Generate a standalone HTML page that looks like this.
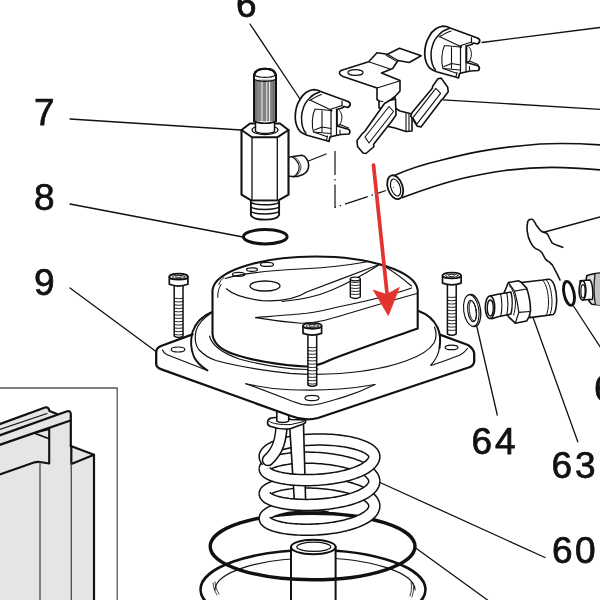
<!DOCTYPE html>
<html><head><meta charset="utf-8">
<style>
html,body{margin:0;padding:0;background:#fff;width:600px;height:600px;overflow:hidden}
svg{display:block}
text{font-family:"Liberation Sans",sans-serif;font-size:37px;fill:#111;stroke:#111;stroke-width:0.75px}
</style></head><body>
<svg width="600" height="600" viewBox="0 0 600 600">
<g fill="none" stroke="#111" stroke-linecap="round" stroke-linejoin="round">

<!-- ============ INSET BOX ============ -->
<g id="inset">
<clipPath id="insclip"><rect x="0" y="388" width="117" height="212"/></clipPath>
<g clip-path="url(#insclip)">
<path d="M-2,424.7 L45,407.5 Q48.5,406.5 49.5,411 L57,414 L66.5,411 Q70.5,410 70.8,414 V446 L94,454.7 V602 H-2 Z" fill="#e5e5e5" stroke="none"/>
<path d="M-2,424.7 L45,407.5 Q48.5,406.5 49.5,411 L57,414" stroke-width="2.2"/>
<path d="M-2,430 L47,413.5" stroke-width="1.2"/>
<path d="M-2,436 L66.5,411.5 Q70.5,410 70.8,414 V446" stroke-width="2.2"/>
<path d="M-2,445.4 L33,433.4 L70.5,420.5" stroke-width="2.2"/>
<path d="M34,433 L48.5,429.5 M34,433 L48.5,438.5" stroke-width="1.8"/>
<path d="M49.2,429 V463.5 L40,462 Q37,461.5 34,462.5 L-2,475" stroke-width="2.1"/>
<path d="M70.8,446 L94,454.7 L71.3,464 M71.3,446 V464 M94,454.7 V602" stroke-width="2.2"/>
<path d="M40,462.5 V602 M71.3,464 V602" stroke="#555" stroke-width="1.4"/>
</g>
<path d="M-2,388 H117.2 V602" stroke="#555" stroke-width="1.3" stroke-linecap="butt"/>
</g>


<!-- ============ PART 7 VALVE ============ -->
<g id="p7">
<path d="M286,157.5 L302,155.3 C305,155.5 308.5,160 308.7,165 C308.8,170 306,173 303,174.5 L297.3,176.5 L292,176.5 L286,175.8 Z" fill="#fff" stroke-width="1.6"/>
<path d="M292.7,157 C296.5,160 299.2,163.5 299.2,167 C299,171 296.5,175 293.3,177" stroke-width="1.2"/>
<path d="M294.5,156.8 C298.3,160 301,163.5 301,167 C300.8,171 298.3,175 295.1,176.8" stroke-width="0.8"/>
<path d="M241.5,130 V194.7 L251.5,200.6 H278 L288.5,194.7 V130" fill="#fff" stroke-width="2.1"/>
<path d="M252,137.3 V200 M277.3,137.3 V200" stroke-width="1.3"/>
<path d="M241.5,130 L250,123.5 H280 L288.5,130 L277.3,137.3 H252 Z" fill="#fff" stroke-width="2"/>
<ellipse cx="265" cy="130" rx="13" ry="4.6" stroke-width="1.2"/>
<path d="M255.5,121.5 V131.5 C259,134 271,134 274.5,131.5 V121.5" fill="#fff" stroke-width="1.5"/>
<path d="M254,121 V77 C254,71 258.5,68.7 265,68.7 C271.5,68.7 276,71 276,77 V121" stroke-width="2" fill="#fff"/>
<rect x="254.5" y="80" width="21" height="41" fill="#c4c4c4" stroke="none"/>
<path d="M254.90,80 V121 M255.95,80 V121 M257.00,80 V121 M258.05,80 V121 M259.10,80 V121 M260.15,80 V121 M261.20,80 V121 M262.25,80 V121 M263.30,80 V121 M264.35,80 V121 M265.40,80 V121 M266.45,80 V121 M267.50,80 V121 M268.55,80 V121 M269.60,80 V121 M270.65,80 V121 M271.70,80 V121 M272.75,80 V121 M273.80,80 V121 M274.85,80 V121" stroke="#3a3a3a" stroke-width="0.55"/>
<path d="M256,81 V121 M273.5,81 V121" stroke="#666" stroke-width="1.2"/>
<path d="M262,81 V121.5 M266.8,81 V121.5 M269.6,81 V121.5" stroke="#fff" stroke-width="0.9"/>
<path d="M254,121 V77 C254,71 258.5,68.7 265,68.7 C271.5,68.7 276,71 276,77 V121" stroke-width="2"/>
<path d="M255,75.5 C259,78 271,78 275,75.5" stroke-width="1.2"/>
<path d="M254.5,79.5 C259,82 271,82 275.5,79.5" stroke-width="1.2"/>
<path d="M254,121 C258,124 272,124 276,121" stroke-width="1.6"/>
<path d="M250.9,201.6 V215 C252,218 258,219.6 265,219.6 C272,219.6 278,218 279.1,215 V201.6" fill="#fff" stroke-width="1.9"/>
<path d="M251.2,202.6 C256,205.6 274,205.6 278.8,202.6 M250.9,207.2 C256,210.2 274,210.2 279.1,207.2 M250.9,211.7 C256,214.7 274,214.7 279.1,211.7" stroke-width="1.5"/>
</g>
<!-- ============ PART 8 ORING ============ -->
<ellipse cx="265.3" cy="236.7" rx="21.8" ry="7.2" stroke-width="3"/>




<!-- ============ BOTTOM ASSEMBLY ============ -->
<g id="bottom">
<!-- bowl -->
<ellipse cx="313" cy="589.5" rx="112.5" ry="39.5" stroke-width="2.6"/>
<path d="M215,590 A100,32 0 0 1 415,590" stroke-width="1.1"/>
<path d="M213,583 C213.5,588 215,592 217,595 M215,582 C215.5,587 217,591 219,594" stroke-width="0.8"/>
<path d="M411,582 C412,587 411.5,592 410,596 M413,583 C414,588 413.5,593 412,597" stroke-width="0.8"/>
<!-- post -->
<path d="M291,547 V602 H335.6 V547 Z" fill="#fff" stroke="none"/>
<path d="M291,547 V602 M335.6,547 V602" stroke-width="2"/>
<ellipse cx="313.3" cy="547" rx="22.3" ry="7.3" fill="#fff" stroke-width="2"/>
<ellipse cx="313.8" cy="546.8" rx="17" ry="4.6" stroke-width="1.2"/>
<!-- big o-ring -->
<ellipse cx="312.6" cy="546.5" rx="102.4" ry="33.3" stroke-width="3.4"/>
<!-- spring -->
<path d="M264.70,518.50 L264.78,517.74 L265.01,516.97 L265.39,516.22 L265.92,515.47 L266.60,514.73 L267.44,514.00 L268.41,513.29 L269.53,512.60 L270.79,511.92 L272.19,511.27 L273.72,510.64 L275.37,510.04 L277.15,509.46 L279.05,508.92 L281.06,508.40 L283.18,507.93 L285.40,507.48 L287.71,507.08 L290.12,506.71 L292.60,506.38 L295.17,506.10 L297.79,505.85 L300.49,505.65 L303.23,505.50 L306.02,505.39 L308.84,505.33 L311.70,505.31 L314.58,505.34 L317.47,505.42 L320.37,505.54 L323.26,505.72 L326.15,505.94 L329.02,506.20" stroke="#111" stroke-width="12.6" stroke-linecap="butt" stroke-linejoin="round"/><path d="M264.83,519.41 L264.71,518.71 L264.74,517.97 L264.92,517.20 L265.27,516.43 L265.76,515.67 L266.41,514.92 L267.21,514.19 L268.16,513.46 L269.26,512.76 L270.50,512.07 L271.87,511.41 L273.39,510.77 L275.03,510.15 L276.81,509.57 L278.70,509.01 L280.71,508.49 L282.83,508.00 L285.06,507.55 L287.38,507.13 L289.80,506.76 L292.30,506.42 L294.87,506.13 L297.52,505.88 L300.23,505.67 L302.99,505.51 L305.81,505.40 L308.66,505.33 L311.54,505.31 L314.44,505.34 L317.36,505.41 L320.29,505.54 L323.21,505.71 L326.12,505.93 L329.02,506.20" stroke="#fff" stroke-width="9.6" stroke-linecap="butt" stroke-linejoin="round"/>
<path d="M264.70,493.70 L264.78,493.02 L265.00,492.34 L265.37,491.66 L265.90,490.99 L266.57,490.33 L267.38,489.69 L268.34,489.05 L269.44,488.44 L270.67,487.84 L272.04,487.27 L273.54,486.71 L275.17,486.19 L276.91,485.69 L278.78,485.22 L280.75,484.78 L282.83,484.37 L285.01,484.00 L287.29,483.67 L289.65,483.37 L292.10,483.11 L294.62,482.89 L297.21,482.72 L299.86,482.58 L302.57,482.49 L305.32,482.45 L308.11,482.44 L310.93,482.49 L313.77,482.58 L316.63,482.72 L319.50,482.90 L322.37,483.13 L325.23,483.41 L328.07,483.73 L330.89,484.10 L333.68,484.51 L336.43,484.97 L339.14,485.48 L341.79,486.02 L344.38,486.61 L346.90,487.24 L349.35,487.92 L351.71,488.63 L353.99,489.38 L356.17,490.16 L358.25,490.98 L360.22,491.83 L362.09,492.71 L363.83,493.63 L365.46,494.57 L366.96,495.53 L368.33,496.52 L369.56,497.53 L370.66,498.56 L371.62,499.61 L372.43,500.67 L373.10,501.74 L373.63,502.82 L374.00,503.91 L374.22,505.00 L374.30,506.10" stroke="#111" stroke-width="12.6" stroke-linecap="butt" stroke-linejoin="round"/><path d="M264.83,494.61 L264.71,493.92 L264.74,493.23 L264.92,492.54 L265.25,491.86 L265.74,491.18 L266.37,490.51 L267.16,489.85 L268.09,489.21 L269.17,488.58 L270.38,487.98 L271.74,487.39 L273.22,486.83 L274.84,486.29 L276.58,485.78 L278.45,485.30 L280.42,484.85 L282.51,484.43 L284.70,484.05 L286.99,483.71 L289.37,483.40 L291.83,483.14 L294.37,482.91 L296.99,482.73 L299.66,482.59 L302.39,482.50 L305.17,482.45 L307.99,482.44 L310.84,482.49 L313.71,482.58 L316.60,482.71 L319.50,482.90 L322.40,483.13 L325.29,483.41 L328.16,483.74 L331.01,484.12 L333.83,484.54 L336.61,485.00 L339.34,485.52 L342.01,486.07 L344.63,486.67 L347.17,487.31 L349.63,488.00 L352.01,488.72 L354.30,489.48 L356.49,490.28 L358.58,491.11 L360.55,491.98 L362.42,492.88 L364.16,493.81 L365.78,494.76 L367.26,495.74 L368.62,496.75 L369.83,497.77 L370.91,498.82 L371.84,499.88 L372.63,500.95 L373.26,502.04 L373.75,503.14 L374.08,504.24 L374.26,505.35 L374.29,506.45 L374.17,507.56" stroke="#fff" stroke-width="9.6" stroke-linecap="butt" stroke-linejoin="round"/>
<path d="M264.70,468.90 L264.78,468.22 L265.00,467.54 L265.37,466.86 L265.90,466.19 L266.57,465.53 L267.38,464.89 L268.34,464.25 L269.44,463.64 L270.67,463.04 L272.04,462.47 L273.54,461.91 L275.17,461.39 L276.91,460.89 L278.78,460.42 L280.75,459.98 L282.83,459.57 L285.01,459.20 L287.29,458.87 L289.65,458.57 L292.10,458.31 L294.62,458.09 L297.21,457.92 L299.86,457.78 L302.57,457.69 L305.32,457.65 L308.11,457.64 L310.93,457.69 L313.77,457.78 L316.63,457.92 L319.50,458.10 L322.37,458.33 L325.23,458.61 L328.07,458.93 L330.89,459.30 L333.68,459.71 L336.43,460.17 L339.14,460.68 L341.79,461.22 L344.38,461.81 L346.90,462.44 L349.35,463.12 L351.71,463.83 L353.99,464.58 L356.17,465.36 L358.25,466.18 L360.22,467.03 L362.09,467.91 L363.83,468.83 L365.46,469.77 L366.96,470.73 L368.33,471.72 L369.56,472.73 L370.66,473.76 L371.62,474.81 L372.43,475.87 L373.10,476.94 L373.63,478.02 L374.00,479.11 L374.22,480.20 L374.30,481.30" stroke="#111" stroke-width="12.6" stroke-linecap="butt" stroke-linejoin="round"/><path d="M264.83,469.81 L264.71,469.12 L264.74,468.43 L264.92,467.74 L265.25,467.06 L265.74,466.38 L266.37,465.71 L267.16,465.05 L268.09,464.41 L269.17,463.78 L270.38,463.18 L271.74,462.59 L273.22,462.03 L274.84,461.49 L276.58,460.98 L278.45,460.50 L280.42,460.05 L282.51,459.63 L284.70,459.25 L286.99,458.91 L289.37,458.60 L291.83,458.34 L294.37,458.11 L296.99,457.93 L299.66,457.79 L302.39,457.70 L305.17,457.65 L307.99,457.64 L310.84,457.69 L313.71,457.78 L316.60,457.91 L319.50,458.10 L322.40,458.33 L325.29,458.61 L328.16,458.94 L331.01,459.32 L333.83,459.74 L336.61,460.20 L339.34,460.72 L342.01,461.27 L344.63,461.87 L347.17,462.51 L349.63,463.20 L352.01,463.92 L354.30,464.68 L356.49,465.48 L358.58,466.31 L360.55,467.18 L362.42,468.08 L364.16,469.01 L365.78,469.96 L367.26,470.94 L368.62,471.95 L369.83,472.97 L370.91,474.02 L371.84,475.08 L372.63,476.15 L373.26,477.24 L373.75,478.34 L374.08,479.44 L374.26,480.55 L374.29,481.65 L374.17,482.76" stroke="#fff" stroke-width="9.6" stroke-linecap="butt" stroke-linejoin="round"/>
<path d="M264.70,456.50 L264.78,455.61 L265.00,454.72 L265.37,453.84 L265.90,452.97 L266.57,452.10 L267.38,451.25 L268.34,450.41 L269.44,449.59 L270.67,448.78 L272.04,448.00 L273.54,447.24 L275.17,446.51 L276.91,445.80 L278.78,445.12 L280.75,444.48 L282.83,443.87 L285.01,443.29 L287.29,442.75 L289.65,442.24 L292.10,441.78 L294.62,441.35 L297.21,440.97 L299.86,440.63 L302.57,440.33 L305.32,440.08 L308.11,439.87 L310.93,439.71 L313.77,439.59 L316.63,439.52 L319.50,439.50 L322.37,439.52 L325.23,439.59 L328.07,439.71 L330.89,439.87 L333.68,440.08 L336.43,440.33 L339.14,440.63 L341.79,440.97 L344.38,441.35 L346.90,441.78 L349.35,442.24 L351.71,442.75 L353.99,443.29 L356.17,443.87 L358.25,444.48 L360.22,445.12 L362.09,445.80 L363.83,446.51 L365.46,447.24 L366.96,448.00 L368.33,448.78 L369.56,449.59 L370.66,450.41 L371.62,451.25 L372.43,452.10 L373.10,452.97 L373.63,453.84 L374.00,454.72 L374.22,455.61 L374.30,456.50" stroke="#111" stroke-width="12.6" stroke-linecap="butt" stroke-linejoin="round"/><path d="M264.83,457.69 L264.71,456.79 L264.74,455.89 L264.92,454.99 L265.25,454.10 L265.74,453.21 L266.37,452.33 L267.16,451.47 L268.09,450.61 L269.17,449.78 L270.38,448.96 L271.74,448.17 L273.22,447.39 L274.84,446.65 L276.58,445.93 L278.45,445.24 L280.42,444.58 L282.51,443.96 L284.70,443.37 L286.99,442.81 L289.37,442.30 L291.83,441.83 L294.37,441.39 L296.99,441.00 L299.66,440.65 L302.39,440.35 L305.17,440.09 L307.99,439.88 L310.84,439.71 L313.71,439.60 L316.60,439.52 L319.50,439.50 L322.40,439.52 L325.29,439.60 L328.16,439.71 L331.01,439.88 L333.83,440.09 L336.61,440.35 L339.34,440.65 L342.01,441.00 L344.63,441.39 L347.17,441.83 L349.63,442.30 L352.01,442.81 L354.30,443.37 L356.49,443.96 L358.58,444.58 L360.55,445.24 L362.42,445.93 L364.16,446.65 L365.78,447.39 L367.26,448.17 L368.62,448.96 L369.83,449.78 L370.91,450.61 L371.84,451.47 L372.63,452.33 L373.26,453.21 L373.75,454.10 L374.08,454.99 L374.26,455.89 L374.29,456.85 L374.17,457.96" stroke="#fff" stroke-width="9.6" stroke-linecap="butt" stroke-linejoin="round"/>
<path d="M266.82,461.19 L266.00,460.18 L265.37,459.16 L264.95,458.13 L264.73,457.09 L264.72,456.05" stroke="#111" stroke-width="12.6" stroke-linecap="butt" stroke-linejoin="round"/><path d="M266.82,461.19 L266.03,460.23 L265.43,459.26 L265.00,458.28 L264.76,457.29 L264.70,456.30 L264.83,455.31" stroke="#fff" stroke-width="9.6" stroke-linecap="butt" stroke-linejoin="round"/>
<!-- rod -->
<path d="M290.5,430 L303,425 L305.4,500 L294.4,500 Z" fill="#fff" stroke="none"/>
<path d="M289.8,428 L294.3,500 M303.5,423.7 L305.6,500" stroke-width="1.6"/>
<path d="M281.8,421 C281.5,440 278,451 268,460" stroke="#111" stroke-width="12.6" stroke-linecap="round"/><path d="M281.8,419.5 C281.5,440 278,451 268,460" stroke="#fff" stroke-width="9.6" stroke-linecap="round"/>
<path d="M374.28,505.55 L374.28,506.65 L374.13,507.74 L373.83,508.84 L373.38,509.92 L372.79,511.00 L372.04,512.06 L371.16,513.12 L370.13,514.16 L368.96,515.18 L367.66,516.18 L366.22,517.15 L364.66,518.11 L362.98,519.03 L361.17,519.93 L359.25,520.80 L357.22,521.63 L355.09,522.44 L352.86,523.20 L350.54,523.93 L348.13,524.62 L345.65,525.28 L343.09,525.89 L340.47,526.46 L337.79,526.98 L335.06,527.46 L332.29,527.90 L329.49,528.29 L326.65,528.64 L323.80,528.94 L320.93,529.19 L318.07,529.40 L315.20,529.56 L312.35,529.67 L309.51,529.74 L306.71,529.76 L303.94,529.74 L301.21,529.67 L298.53,529.56 L295.91,529.40 L293.35,529.20 L290.87,528.96 L288.46,528.69 L286.14,528.37 L283.91,528.02 L281.78,527.63 L279.75,527.21 L277.83,526.75 L276.02,526.27 L274.34,525.75 L272.78,525.21 L271.34,524.65 L270.04,524.06 L268.87,523.46 L267.84,522.83 L266.96,522.19 L266.21,521.54 L265.62,520.87 L265.17,520.20 L264.87,519.52 L264.72,518.84 L264.72,518.12" stroke="#111" stroke-width="12.6" stroke-linecap="butt" stroke-linejoin="round"/><path d="M374.17,504.64 L374.29,505.75 L374.26,506.85 L374.08,507.96 L373.75,509.06 L373.26,510.16 L372.63,511.25 L371.84,512.32 L370.91,513.38 L369.83,514.43 L368.62,515.45 L367.26,516.46 L365.78,517.44 L364.16,518.39 L362.42,519.32 L360.55,520.22 L358.58,521.09 L356.49,521.92 L354.30,522.72 L352.01,523.48 L349.63,524.20 L347.17,524.89 L344.63,525.53 L342.01,526.13 L339.34,526.68 L336.61,527.20 L333.83,527.66 L331.01,528.08 L328.16,528.46 L325.29,528.79 L322.40,529.07 L319.50,529.30 L316.60,529.49 L313.71,529.62 L310.84,529.71 L307.99,529.76 L305.17,529.75 L302.39,529.70 L299.66,529.61 L296.99,529.47 L294.37,529.29 L291.83,529.06 L289.37,528.80 L286.99,528.49 L284.70,528.15 L282.51,527.77 L280.42,527.35 L278.45,526.90 L276.58,526.42 L274.84,525.91 L273.22,525.37 L271.74,524.81 L270.38,524.22 L269.17,523.62 L268.09,522.99 L267.16,522.35 L266.37,521.69 L265.74,521.02 L265.25,520.34 L264.92,519.66 L264.74,518.97 L264.71,518.26 L264.83,517.49" stroke="#fff" stroke-width="9.6" stroke-linecap="butt" stroke-linejoin="round"/>
<path d="M374.28,480.75 L374.28,481.85 L374.13,482.94 L373.83,484.04 L373.38,485.12 L372.79,486.20 L372.04,487.26 L371.16,488.32 L370.13,489.36 L368.96,490.38 L367.66,491.38 L366.22,492.35 L364.66,493.31 L362.98,494.23 L361.17,495.13 L359.25,496.00 L357.22,496.83 L355.09,497.64 L352.86,498.40 L350.54,499.13 L348.13,499.82 L345.65,500.48 L343.09,501.09 L340.47,501.66 L337.79,502.18 L335.06,502.66 L332.29,503.10 L329.49,503.49 L326.65,503.84 L323.80,504.14 L320.93,504.39 L318.07,504.60 L315.20,504.76 L312.35,504.87 L309.51,504.94 L306.71,504.96 L303.94,504.94 L301.21,504.87 L298.53,504.76 L295.91,504.60 L293.35,504.40 L290.87,504.16 L288.46,503.89 L286.14,503.57 L283.91,503.22 L281.78,502.83 L279.75,502.41 L277.83,501.95 L276.02,501.47 L274.34,500.95 L272.78,500.41 L271.34,499.85 L270.04,499.26 L268.87,498.66 L267.84,498.03 L266.96,497.39 L266.21,496.74 L265.62,496.07 L265.17,495.40 L264.87,494.72 L264.72,494.04 L264.72,493.36" stroke="#111" stroke-width="12.6" stroke-linecap="butt" stroke-linejoin="round"/><path d="M374.17,479.84 L374.29,480.95 L374.26,482.05 L374.08,483.16 L373.75,484.26 L373.26,485.36 L372.63,486.45 L371.84,487.52 L370.91,488.58 L369.83,489.63 L368.62,490.65 L367.26,491.66 L365.78,492.64 L364.16,493.59 L362.42,494.52 L360.55,495.42 L358.58,496.29 L356.49,497.12 L354.30,497.92 L352.01,498.68 L349.63,499.40 L347.17,500.09 L344.63,500.73 L342.01,501.33 L339.34,501.88 L336.61,502.40 L333.83,502.86 L331.01,503.28 L328.16,503.66 L325.29,503.99 L322.40,504.27 L319.50,504.50 L316.60,504.69 L313.71,504.82 L310.84,504.91 L307.99,504.96 L305.17,504.95 L302.39,504.90 L299.66,504.81 L296.99,504.67 L294.37,504.49 L291.83,504.26 L289.37,504.00 L286.99,503.69 L284.70,503.35 L282.51,502.97 L280.42,502.55 L278.45,502.10 L276.58,501.62 L274.84,501.11 L273.22,500.57 L271.74,500.01 L270.38,499.42 L269.17,498.82 L268.09,498.19 L267.16,497.55 L266.37,496.89 L265.74,496.22 L265.25,495.54 L264.92,494.86 L264.74,494.17 L264.71,493.48 L264.83,492.79" stroke="#fff" stroke-width="9.6" stroke-linecap="butt" stroke-linejoin="round"/>
<path d="M374.28,456.05 L374.28,457.05 L374.13,458.14 L373.83,459.24 L373.38,460.32 L372.79,461.40 L372.04,462.46 L371.16,463.52 L370.13,464.56 L368.96,465.58 L367.66,466.58 L366.22,467.55 L364.66,468.51 L362.98,469.43 L361.17,470.33 L359.25,471.20 L357.22,472.03 L355.09,472.84 L352.86,473.60 L350.54,474.33 L348.13,475.02 L345.65,475.68 L343.09,476.29 L340.47,476.86 L337.79,477.38 L335.06,477.86 L332.29,478.30 L329.49,478.69 L326.65,479.04 L323.80,479.34 L320.93,479.59 L318.07,479.80 L315.20,479.96 L312.35,480.07 L309.51,480.14 L306.71,480.16 L303.94,480.14 L301.21,480.07 L298.53,479.96 L295.91,479.80 L293.35,479.60 L290.87,479.36 L288.46,479.09 L286.14,478.77 L283.91,478.42 L281.78,478.03 L279.75,477.61 L277.83,477.15 L276.02,476.67 L274.34,476.15 L272.78,475.61 L271.34,475.05 L270.04,474.46 L268.87,473.86 L267.84,473.23 L266.96,472.59 L266.21,471.94 L265.62,471.27 L265.17,470.60 L264.87,469.92 L264.72,469.24 L264.72,468.56" stroke="#111" stroke-width="12.6" stroke-linecap="butt" stroke-linejoin="round"/><path d="M374.17,455.31 L374.29,456.21 L374.26,457.25 L374.08,458.36 L373.75,459.46 L373.26,460.56 L372.63,461.65 L371.84,462.72 L370.91,463.78 L369.83,464.83 L368.62,465.85 L367.26,466.86 L365.78,467.84 L364.16,468.79 L362.42,469.72 L360.55,470.62 L358.58,471.49 L356.49,472.32 L354.30,473.12 L352.01,473.88 L349.63,474.60 L347.17,475.29 L344.63,475.93 L342.01,476.53 L339.34,477.08 L336.61,477.60 L333.83,478.06 L331.01,478.48 L328.16,478.86 L325.29,479.19 L322.40,479.47 L319.50,479.70 L316.60,479.89 L313.71,480.02 L310.84,480.11 L307.99,480.16 L305.17,480.15 L302.39,480.10 L299.66,480.01 L296.99,479.87 L294.37,479.69 L291.83,479.46 L289.37,479.20 L286.99,478.89 L284.70,478.55 L282.51,478.17 L280.42,477.75 L278.45,477.30 L276.58,476.82 L274.84,476.31 L273.22,475.77 L271.74,475.21 L270.38,474.62 L269.17,474.02 L268.09,473.39 L267.16,472.75 L266.37,472.09 L265.74,471.42 L265.25,470.74 L264.92,470.06 L264.74,469.37 L264.71,468.68 L264.83,467.99" stroke="#fff" stroke-width="9.6" stroke-linecap="butt" stroke-linejoin="round"/>
<!-- tab + pin -->
<path d="M271.3,418 C266.5,419 266.5,425 270,426.3 C276,428.5 285,429.5 291,428.5 L303.3,424 C306.5,422.5 306,420.5 304.5,420 L291,419.5 C287,417.5 280,416.5 271.3,418 Z" fill="#fff" stroke-width="1.6"/>
<path d="M269.5,421.5 C272,423.5 280,425 291,424.5 L304,421.5" stroke-width="1"/>
<path d="M276.8,409 V421 C279,423 286.5,423 288.7,421 V409 Z" fill="#fff" stroke="none"/>
<path d="M276.8,409 V421 C279,423 286.5,423 288.7,421 V409" stroke-width="1.6"/>
</g>

<!-- ============ HOUSING 9 ============ -->
<g id="housing">
<!-- base plate -->
<path d="M161,346 Q156,348 156.2,352.5 V364.5 Q157,368 161.5,369.3 L291,416 Q305,421.5 318,418 L470,367 Q474.2,365 474.2,361 V353.5 Q473.5,348.5 468,345 L441,335 L330,300 L190,334 Z" fill="#fff" stroke="none"/>
<path d="M192.5,334.4 L161,346 Q156,348 156.2,352.5 V364.5 Q157,368 161.5,369.3 L291,416 Q305,421.5 318,418 L470,367 Q474.2,365 474.2,361 V353.5 Q473.5,348.5 468,345 L440.5,334.8" stroke-width="2.3"/>
<path d="M162.5,350 C163.5,352 164.5,353.5 166.5,354.5 C179,359.5 192,364.5 207.5,370.5" stroke-width="1.2"/>
<path d="M245.8,383.7 C260,387 275,389.2 290,389.7 C305,390.3 320,390.5 340,389 C352,388 364,386.5 375,384.5" stroke-width="1.1"/>
<path d="M245.8,383.7 C262,389.5 280,396.5 293,401.5 C300,404.5 306,405.5 313,405 C320,404.5 330,401 345,396.6 C355,393.5 366,389 375,384.5" stroke-width="1.1"/>
<path d="M431,365.5 C445,361 455,357 460,355 C463,353.5 466,350.5 467.5,348.5" stroke-width="1.2"/>
<!-- flange ring -->
<path d="M212.2,312 C203,315.5 196,322 192.5,332 C190.5,340 191,350 194,357 C197,363 202,367 207.5,370.5" stroke-width="1.9"/>
<path d="M210,314 C203,318.5 198,324 196,331 C194.5,338 195.5,345 198.7,349.5 C203,354 208,358 216,360.5 C232,365 255,369.5 290,373.3 C305,374.5 320,374.8 340,373.5 C365,371.5 390,367 407,360.5 C420,356 430,349 434,343 C436.5,338 436.5,332 434.5,327" stroke-width="1.2"/>
<path d="M418.5,311 C427,314 434,320 437.5,327.5 C440.5,334 440.5,342 439.5,348" stroke-width="2"/>
<path d="M439.5,348 C438.5,354 435.5,360 431,365" stroke-width="1.2"/>
<!-- holes -->
<ellipse cx="178" cy="349.5" rx="6.8" ry="2.5" stroke-width="1.2"/>
<ellipse cx="312" cy="398" rx="7" ry="2.7" stroke-width="1.2"/>
<ellipse cx="451.5" cy="347.4" rx="6.4" ry="2.2" stroke-width="1.2"/>
<!-- body -->
<path d="M212.5,290 V333.7 C213,342 220,349 232,353.5 C250,360 280,365.5 306,366.5 C315,366.5 322,364 330,360 C350,352 385,340 417.7,328.5 V290 A102.7,35 0 0 0 212.5,290 Z" fill="#fff" stroke-width="2.1"/>
<path d="M209.5,336 C212,346 222,353 240,359.2 C260,364.5 285,368.8 306,369.5 L318,369" stroke-width="1.1"/>
<!-- top details -->
<path d="M225.3,278.5 C240,273.5 270,270.5 305,268.8 C330,267.5 352,264.5 366,262" stroke-width="1.1"/>
<path d="M226.4,288.8 C232,294 245,298.5 262,300.7 C280,301.5 296,299 306.7,292 C330,283 360,272 380,264.2" stroke-width="1.2"/>
<path d="M282,301.5 C300,300 318,296 332,290 C350,282 368,272 380,264.2" stroke-width="1.1"/>
<path d="M380,264.2 C390,269 400,276 411.5,286" stroke-width="1.1"/>
<path d="M218.8,284.5 C220,281 222,279 224,277.5 M217.8,297.5 C217.5,292 218.8,288 221,284.5" stroke-width="1"/>
<path d="M255.7,317.6 C265,316.8 290,315 306.7,313.3 C320,311.5 330,309 340,306.5 C365,301.5 395,294 411.5,288" stroke-width="1.1"/>
<path d="M255.7,317.6 C270,320 285,322 301,323.2 C312,323.3 318,322 325,320.3 C345,315 375,305 417,293.5" stroke-width="1.1"/>
<ellipse cx="238.7" cy="274.3" rx="6.3" ry="2" stroke-width="1.2"/>
<ellipse cx="252" cy="269.6" rx="5.5" ry="1.8" stroke-width="1.2"/>
<ellipse cx="267" cy="264.4" rx="6.5" ry="2" stroke-width="1.2"/>
<ellipse cx="265" cy="286" rx="15" ry="5" stroke-width="1.3"/>
<!-- stud -->
<path d="M350.3,279 V297 Q355.3,300 360.3,297 V279" fill="#fff" stroke-width="1.4"/>
<ellipse cx="355.3" cy="279" rx="5" ry="1.8" fill="#fff" stroke-width="1.3"/>
<path d="M350.5,282 Q355.3,283.2 360,282 M350.5,285 Q355.3,286.2 360,285 M350.5,288 Q355.3,289.2 360,288 M350.5,291 Q355.3,292.2 360,291 M350.5,294 Q355.3,295.2 360,294" stroke-width="0.9"/>
<path d="M174.2,286.3 V336.2 Q178.6,338.9 183.0,336.2 V286.3" fill="#fff" stroke-width="1.5"/>
<path d="M174.4,298.3 Q178.6,299.1 182.8,298.3 M174.4,301.6 Q178.6,302.4 182.8,301.6 M174.4,304.9 Q178.6,305.7 182.8,304.9 M174.4,308.2 Q178.6,309.0 182.8,308.2 M174.4,311.5 Q178.6,312.3 182.8,311.5 M174.4,314.8 Q178.6,315.6 182.8,314.8 M174.4,318.1 Q178.6,318.9 182.8,318.1 M174.4,321.4 Q178.6,322.2 182.8,321.4 M174.4,324.7 Q178.6,325.5 182.8,324.7 M174.4,328.0 Q178.6,328.8 182.8,328.0 M174.4,331.3 Q178.6,332.1 182.8,331.3 M174.4,334.6 Q178.6,335.4 182.8,334.6" stroke-width="0.9"/>
<path d="M169.3,276.7 V284.3 Q178.6,287.8 187.9,284.3 V276.7" fill="#fff" stroke-width="1.7"/>
<ellipse cx="178.6" cy="276.7" rx="9.3" ry="3" fill="#fff" stroke-width="1.7"/>
<ellipse cx="178.6" cy="276.9" rx="6.3" ry="1.7" stroke-width="0.9"/>
<path d="M175.6,276.7 L177.1,275.7 H180.1 L181.6,276.7 L180.1,277.7 H177.1 Z" stroke-width="0.8"/>
<path d="M307.9,335.4 V385.0 Q312.3,387.7 316.7,385.0 V335.4" fill="#fff" stroke-width="1.5"/>
<path d="M308.1,347.4 Q312.3,348.2 316.5,347.4 M308.1,350.7 Q312.3,351.5 316.5,350.7 M308.1,354.0 Q312.3,354.8 316.5,354.0 M308.1,357.3 Q312.3,358.1 316.5,357.3 M308.1,360.6 Q312.3,361.4 316.5,360.6 M308.1,363.9 Q312.3,364.7 316.5,363.9 M308.1,367.2 Q312.3,368.0 316.5,367.2 M308.1,370.5 Q312.3,371.3 316.5,370.5 M308.1,373.8 Q312.3,374.6 316.5,373.8 M308.1,377.1 Q312.3,377.9 316.5,377.1 M308.1,380.4 Q312.3,381.2 316.5,380.4 M308.1,383.7 Q312.3,384.5 316.5,383.7" stroke-width="0.9"/>
<path d="M303.0,325.8 V333.4 Q312.3,336.9 321.6,333.4 V325.8" fill="#fff" stroke-width="1.7"/>
<ellipse cx="312.3" cy="325.8" rx="9.3" ry="3" fill="#fff" stroke-width="1.7"/>
<ellipse cx="312.3" cy="326.0" rx="6.3" ry="1.7" stroke-width="0.9"/>
<path d="M309.3,325.8 L310.8,324.8 H313.8 L315.3,325.8 L313.8,326.8 H310.8 Z" stroke-width="0.8"/>
<path d="M447.4,285.1 V334.0 Q451.8,336.7 456.2,334.0 V285.1" fill="#fff" stroke-width="1.5"/>
<path d="M447.6,297.1 Q451.8,297.9 456.0,297.1 M447.6,300.4 Q451.8,301.2 456.0,300.4 M447.6,303.7 Q451.8,304.5 456.0,303.7 M447.6,307.0 Q451.8,307.8 456.0,307.0 M447.6,310.3 Q451.8,311.1 456.0,310.3 M447.6,313.6 Q451.8,314.4 456.0,313.6 M447.6,316.9 Q451.8,317.7 456.0,316.9 M447.6,320.2 Q451.8,321.0 456.0,320.2 M447.6,323.5 Q451.8,324.3 456.0,323.5 M447.6,326.8 Q451.8,327.6 456.0,326.8 M447.6,330.1 Q451.8,330.9 456.0,330.1" stroke-width="0.9"/>
<path d="M442.5,275.5 V283.1 Q451.8,286.6 461.1,283.1 V275.5" fill="#fff" stroke-width="1.7"/>
<ellipse cx="451.8" cy="275.5" rx="9.3" ry="3" fill="#fff" stroke-width="1.7"/>
<ellipse cx="451.8" cy="275.7" rx="6.3" ry="1.7" stroke-width="0.9"/>
<path d="M448.8,275.5 L450.3,274.5 H453.3 L454.8,275.5 L453.3,276.5 H450.3 Z" stroke-width="0.8"/>
</g>


<!-- ============ RIGHT PARTS ============ -->
<g id="right">
<!-- washer 64 -->
<ellipse cx="472.6" cy="310.5" rx="8" ry="16.2" transform="rotate(-8 472.6 310.5)" fill="#fff" stroke-width="1.3"/>
<ellipse cx="471.3" cy="310.5" rx="7.6" ry="15.8" transform="rotate(-8 471.3 310.5)" fill="#fff" stroke-width="1.1"/>
<ellipse cx="472" cy="311" rx="4.2" ry="10.8" transform="rotate(-8 472 311)" stroke-width="1.1"/>
<ellipse cx="472.8" cy="311" rx="3.4" ry="10" transform="rotate(-8 472.8 311)" stroke-width="0.9"/>
<!-- fitting 63 -->
<path d="M521.4,282.5 L542.7,280 C546,279.4 548,279.2 549,279.3 C554,280 556.5,290 556.7,300 C556.5,309 555,313 553.3,314.5 L530,317.6 Z" fill="#fff" stroke-width="1.6"/>
<path d="M543,280.5 C547,285 548.5,295 548.5,302 C548.5,308 547.5,313 546,316 M546.5,280 C550.5,285 552,295 552,302 C552,308 551,313 549.5,315.5" stroke-width="1"/>
<path d="M504,293 L508.4,282.5 L518.8,280.8 L521.4,282.5 L526.6,288.1 C529,295 530.5,303 530.5,310.7 L529.2,316.7 L526.6,321 L515.3,323.2 L508.4,316.7 C506,311 504.5,302 504,293 Z" fill="#fff" stroke-width="1.6"/>
<path d="M508.4,282.5 L514.5,291.2 L526.6,289 M514.5,291.2 C516.5,298 518,305 518.8,312.4 L530,311.5 M518.8,312.4 L515.3,323.2" stroke-width="1.2"/>
<path d="M509.3,285.5 C513,289 515,296 515.5,302 C515.5,308 514.5,312 513.6,315" stroke-width="1"/>
<path d="M490,296 L498,294.2 L511,292 C512.5,298 512.5,308 511,314 L498,316.7 L492,318.7 Z" fill="#fff" stroke-width="1.5"/>
<path d="M500.6,294 C502,300 502,310 500.8,316.3 M506.7,293 C508,299 508,309 506.8,315.2" stroke-width="1.1"/>
<ellipse cx="490" cy="307.3" rx="4.7" ry="11.3" fill="#fff" stroke-width="1.6"/>
<ellipse cx="490.3" cy="308" rx="3" ry="8" stroke-width="1.3"/>
<!-- o-ring right -->
<ellipse cx="569" cy="293.4" rx="5" ry="12.2" transform="rotate(-12 569 293.4)" stroke-width="2.9"/>
<!-- gray fitting -->
<path d="M586.7,275.8 C589,274.5 595,273.5 602,273 L602,305.2 L592,304.2 C589.5,303 587.5,298 586.5,292 C586,286 586,279 586.7,275.8 Z" fill="#dcdcdc" stroke-width="1.6"/>
<path d="M595,274 C593.8,283 593.8,295 595.3,304.5 L602,305.2 L602,273.3 Z" fill="#c3c3c3" stroke="none"/>
<path d="M595,274 C593.8,283 593.8,295 595.3,304.5" stroke-width="1.2"/>
<path d="M580,280.8 L590,280 C592.5,283 593.5,293 592.5,299.2 L582.5,300 Z" fill="#fff" stroke-width="1.5"/>
<ellipse cx="582.5" cy="290.4" rx="3.4" ry="9.6" fill="#fff" stroke-width="1.6"/>
<ellipse cx="583" cy="291.3" rx="2.1" ry="6.6" stroke-width="1.2"/>
<!-- wavy cable -->
<path d="M562.7,247.3 C557,245 553,244 552,242.7 C549,238 548,234 546.7,233.3 C544,232.5 542.5,232 541.3,231.3 C538,228 537,226 536,224.7 C534.5,222 533.5,219.5 532,219.3 C530,219 528,220 527.7,222 C526.5,227 526.8,236 530.7,242.7 C532.5,246 534,248 536,248.7 C538.5,249.5 540,250.5 541.3,252 C543,254 544,257 545.3,258.7 C546.5,260.5 548,261.5 549.3,262 C551.5,263.5 553.5,266.5 554.7,269.3 C556.5,272.5 558.5,276.5 560,280" stroke-width="1.6"/>
</g>

<!-- ============ CLIPS 6 ============ -->
<g id="clipL">
<path d="M300,99.5 C297,104 295.2,111 295.2,117.5 C295.3,124 298,130 301,132.2 C303,133.8 305,134.6 307,135.2 L326,140.5 L329,141.5 L330,137 L336,135.5 L341,134.5 L349,134 Q350.8,131.5 349,129.5 L337,126 V109.5 L342,108 L344,106.5 L348,107.5 Q351,105.5 350,103 L348,101.5 L320,91.2 C318,90 316,89.6 313.6,89.6 C311,89.8 308.5,90.8 306,92.5 C303.5,94.3 301.5,96.5 300,99.5 Z" fill="#fff" stroke-width="1.7"/>
<path d="M319.5,92 C315,93.5 312,95.5 310,97.7 C306.5,101 304.2,104.5 303.2,108.5 C301.9,112 301.5,115 301.5,117.5 C301.5,122 302,125 302.8,127.4 C303.5,130 304.5,131.8 306,133.2" stroke-width="1.5"/>
<path d="M309.5,100.4 C313,98.5 317,96 321.5,94.5" stroke-width="1.1"/>
<path d="M311,100.5 L330,109.5 L342,105.5 M342,101 L342,106" stroke-width="1.2"/>
<path d="M315,109 L330.5,110.5 M315,109 C312,115 311.5,126 313.5,132 L330.5,133.5 M322,111 V131.5 M314.5,130 L322,127 L331,128.5" stroke-width="1.1"/>
<path d="M331,109.5 V136 M336.5,109 V135.5 M330.5,110.5 Q333,109 331,112" stroke-width="1.2"/>
<path d="M337,126 L340,124.5 L348.5,128 M340,133.5 V130 M326.5,140 L327.5,136 M313.5,132 L326.5,136.5" stroke-width="1.1"/>
<path d="M339.5,110.5 C343,114 343,122 338.5,126" stroke-width="1"/>
</g>
<use href="#clipL" transform="translate(129.5,-63.5)"/>

<!-- ============ BRACKET ============ -->
<g id="bracket">
<path d="M343,76.5 L377,88 V99.5 L379,101 V108 L395,108 L400,111 L412,114 L412,131 L406,131.5 L395,128 L386,126 L383,106 L395,96.5 L400,91 V80.5 L381.5,73 L392.7,68.5 L398,60.5 L409.2,62.5 L421.2,55.7 L399.5,48.2 L387.5,54.2 L377,52.7 L368.7,61.7 L341,70.5 Q337,73.5 343,76.5 Z" fill="#fff" stroke-width="1.6"/>
<path d="M368.7,61.7 L390,69 M387.5,54.2 L398,60.5 M386.3,55.3 L396.6,61.4 M377,88 L399.5,81" stroke-width="1.1"/>
<ellipse cx="355.5" cy="72.5" rx="7.6" ry="2.9" stroke-width="1.2"/>
<path d="M379,101 L383,101.5 M395,96.5 V108 M406,113 V131.5 M409,113.5 V131" stroke-width="1.1"/>
<!-- left arm -->
<path d="M384.5,103.5 L389.5,100.5 L395.5,99 L396,115 L391.5,121.5 L373.5,144.5 L374,146.5 L366,153.5 L363,153 L357.5,146.5 L357,140.5 L362,134 L365,131 Z" fill="#fff" stroke-width="1.6"/>
<path d="M365,137 L389,106.5 L393.5,111.5 L369,143 Z" stroke-width="1.1"/>
<!-- right arm -->
<path d="M432.5,86.5 L437.9,78.7 L441.2,78.1 L447.7,87.3 L448.2,91.7 L443.3,98.2 L441.7,99.8 L421,126.9 L417.3,126.3 L410.8,116 L411.9,112.8 L432.5,88 Z" fill="#fff" stroke-width="1.6"/>
<path d="M413,117.7 L435.8,88.4 L440.6,93.3 L416.8,124.2 Z" stroke-width="1.1"/>
</g>

<!-- ============ TUBE ============ -->
<g id="tube">
<path d="M395.5,175 C410,168.5 425,164 440,160.5 C455,156.5 468,153.5 480,151.3 C500,148 520,145.5 540,144 C560,143 580,143.5 602,145 L602,170 C585,168.5 570,167.5 552,167.3 C535,167.3 520,168.5 505,170.5 C490,172.5 475,175.5 460,179 C440,184 420,191 402.5,197.5 Z" fill="#fff" stroke="none"/>
<path d="M395.5,175 C410,168.5 425,164 440,160.5 C455,156.5 468,153.5 480,151.3 C500,148 520,145.5 540,144 C560,143 580,143.5 602,145" stroke-width="1.7"/>
<path d="M402.5,197.5 C420,191 440,184 460,179 C475,175.5 490,172.5 505,170.5 C520,168.5 535,167.3 552,167.3 C570,167.5 585,168.5 602,170" stroke-width="1.7"/>
<ellipse cx="395.2" cy="187.2" rx="7.4" ry="12.3" transform="rotate(-18 395.2 187.2)" fill="#fff" stroke-width="1.8"/>
<ellipse cx="395.6" cy="187.5" rx="4.6" ry="8.8" transform="rotate(-18 395.6 187.5)" stroke-width="1.2"/>
<circle cx="393.5" cy="187.5" r="0.5" fill="#333" stroke="none"/>
</g>

<!-- ============ DASH-DOT ============ -->
<path d="M335,151 V207.5 L386,190.5" stroke-width="1.2" stroke-dasharray="24 4 1.5 4" stroke-linecap="butt"/>

<!-- ============ LEADERS ============ -->
<g id="leaders" stroke-width="1.3">
<path d="M70,119 L241,130"/>
<path d="M70,204 L243,237"/>
<path d="M70,288 L155.7,351.3"/>
<path d="M250,24 L300,99"/>
<path d="M482,42.5 L600,27.5"/>
<path d="M443,99.8 L600,109.3"/>
<path d="M544.7,232 L600,217"/>
<path d="M476.7,326 L497.3,415"/>
<path d="M533.3,318.3 L577.8,441.8"/>
<path d="M380,482.5 L545,557.5"/>
<path d="M415,547.5 L487.5,600"/>
<path d="M573.5,306 L600,346.7"/>
<path d="M308.5,161 L326,154"/>
</g>

</g>

<!-- ============ RED ARROW ============ -->
<g id="arrow">
<path d="M373.5,165 L387.3,296" stroke="#e3332e" stroke-width="3.7" stroke-linecap="round" fill="none"/>
<path d="M373.3,290 L386.5,294.5 L399.3,287.5 L388.3,315.5 Z" fill="#e3332e" stroke="#e3332e" stroke-width="0.8" stroke-linejoin="round"/>
</g>
<!-- ============ LABELS ============ -->
<g style="filter:grayscale(1)">
<text x="34" y="125">7</text>
<text x="34" y="210">8</text>
<text x="34" y="294.5">9</text>
<text x="236" y="17">6</text>
<text x="471.5" y="453.5" letter-spacing="3">64</text>
<text x="551.5" y="478" letter-spacing="3">63</text>
<text x="552" y="562.5" letter-spacing="2.5">60</text>
<text x="594" y="400.5">6</text>
</g>
</svg>
</body></html>
